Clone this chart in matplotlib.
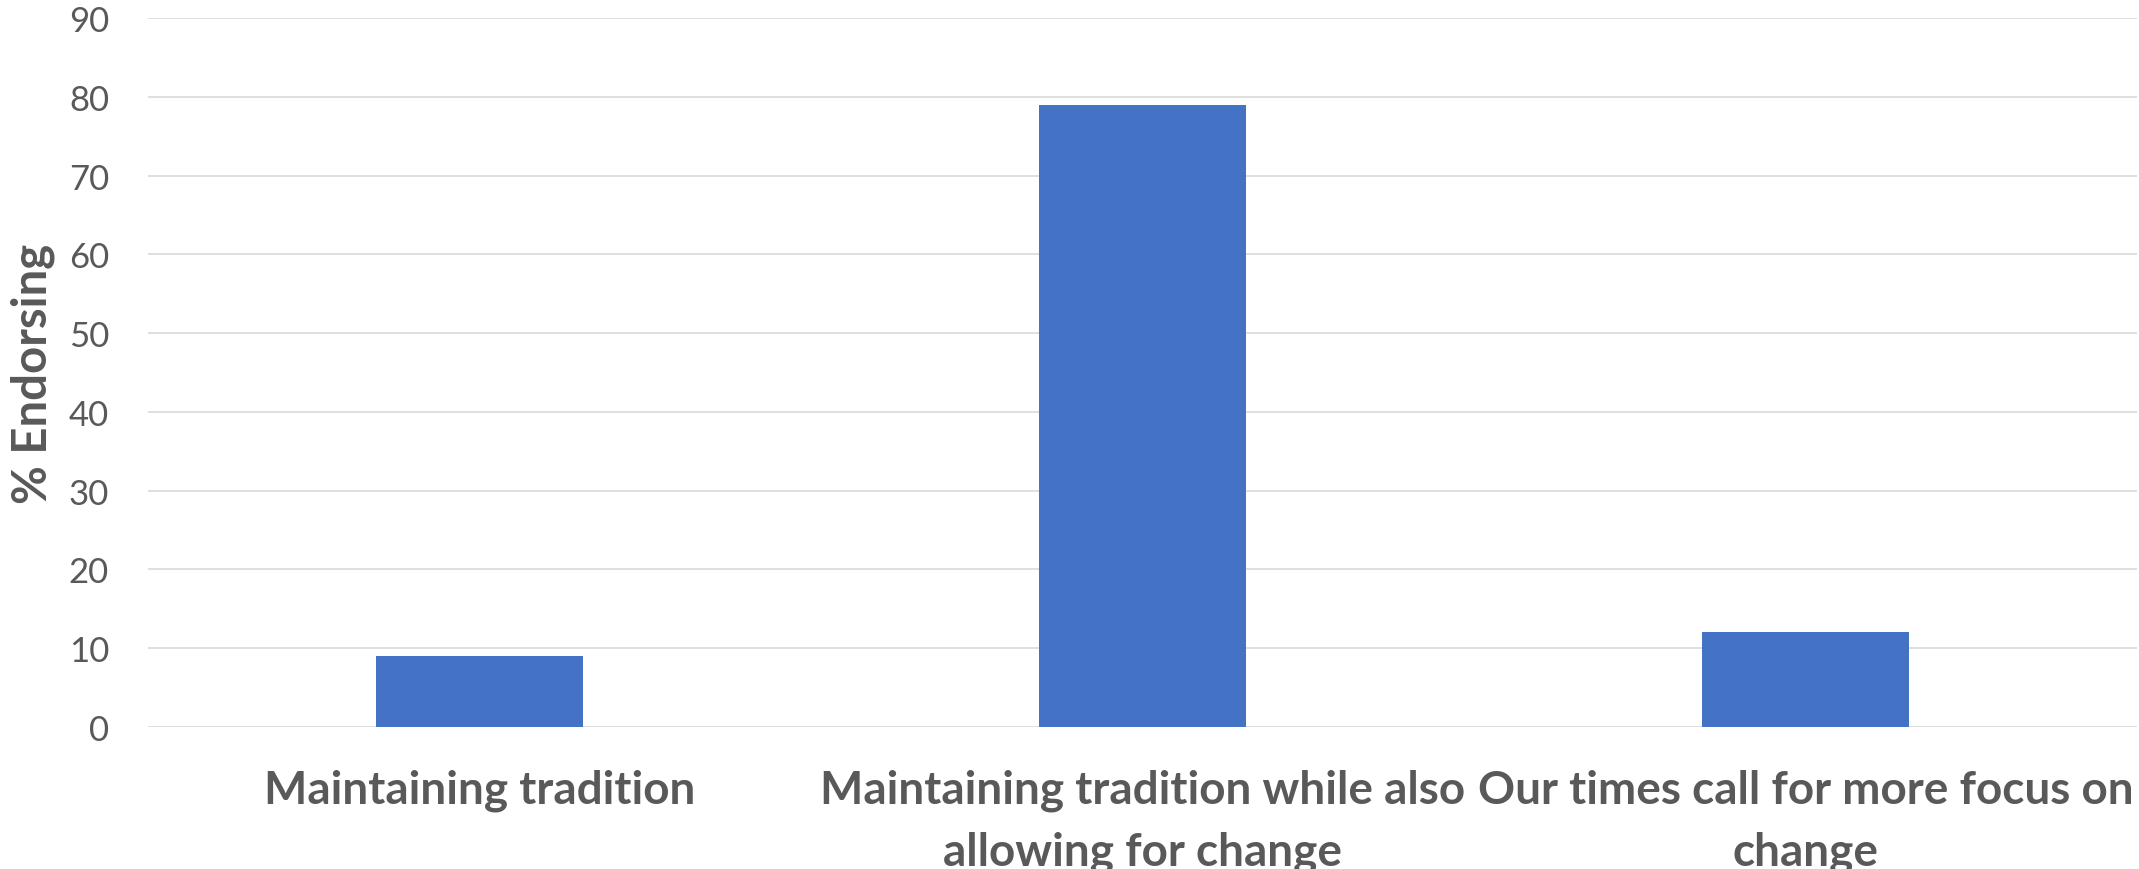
import matplotlib
matplotlib.use("Agg")
import matplotlib.pyplot as plt

# survey responses
categories = [
    "Maintaining tradition",
    "Maintaining tradition while also\nallowing for change",
    "Our times call for more focus on\nchange",
]
pct_endorsing = [9, 79, 12]
y_ticks = [0, 10, 20, 30, 40, 50, 60, 70, 80, 90]

BAR_COLOUR = "#4472C4"
TEXT_COLOUR = "#595959"
GRID_COLOUR = "#D9D9D9"

plt.rcParams["font.family"] = ["Lato", "DejaVu Sans"]

fig = plt.figure(figsize=(21.39, 8.7), dpi=100)
ax = fig.add_axes([148 / 2139, 142 / 870, 1989 / 2139, 709 / 870])

x = range(len(categories))
ax.bar(x, pct_endorsing, width=0.312, color=BAR_COLOUR, zorder=3)

ax.set_xlim(-0.5, len(categories) - 0.5)
ax.set_ylim(0, 90)
ax.set_yticks(y_ticks)
ax.set_xticks(list(x))
ax.set_xticklabels(categories, fontsize=33, fontweight="bold",
                   color=TEXT_COLOUR, linespacing=1.57)
ax.tick_params(axis="y", labelsize=25, labelcolor=TEXT_COLOUR, length=0, pad=28)
ax.tick_params(axis="x", length=0, pad=30)

ax.set_ylabel("% Endorsing", fontsize=34, fontweight="bold", color=TEXT_COLOUR)
ax.yaxis.set_label_coords(-0.047, 0.5)

ax.grid(axis="y", color=GRID_COLOUR, linewidth=1.2, zorder=0)
for side in ["top", "right", "left", "bottom"]:
    ax.spines[side].set_visible(False)

fig.savefig("out.png", dpi=100)
